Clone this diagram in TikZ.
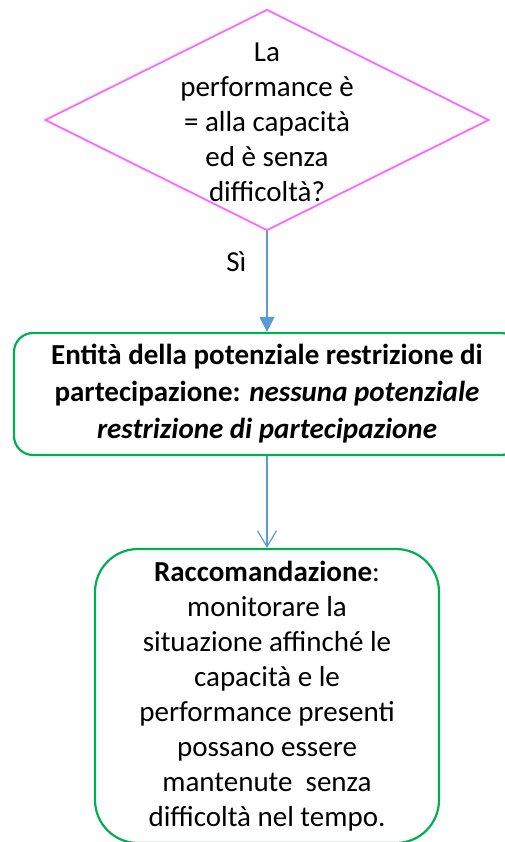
\documentclass[tikz,border=0pt]{standalone}
\usepackage{fontspec}
\setmainfont{Carlito}
\usepackage{tikz}
\usetikzlibrary{shapes.geometric,arrows.meta}
\usepackage{xcolor}
\definecolor{diamondpink}{RGB}{255,102,255}
\definecolor{boxgreen}{RGB}{0,176,80}
\definecolor{flowblue}{RGB}{91,155,213}

\begin{document}
\begin{tikzpicture}[x=1pt,y=-1pt,
  decision/.style={diamond, draw=diamondpink, line width=1.8pt, inner sep=0pt, minimum width=444pt, minimum height=221pt},
  outcome/.style={draw=boxgreen, line width=2.2pt, align=center, inner sep=0pt},
  flow/.style={draw=flowblue, line width=1.2pt},
  every node/.style={font=\fontsize{29}{35}\selectfont}]
\useasboundingbox (0,0) rectangle (504,842);

% Question (diamond drawn empty, text placed on top)
\node[decision] (cond) at (267,120) {};
\node[align=center, inner sep=0pt] (condtext) at (267,122) {La\\ performance è\\ = alla capacità\\ ed è senza\\ difficoltà?};

% Outcome boxes
\node[outcome, rounded corners=19pt, minimum width=506pt, minimum height=122pt,
  font=\fontsize{29}{37}\selectfont] (entity) at (267,394)
  {\textbf{Entità della potenziale restrizione di}\\ \textbf{partecipazione: \textit{nessuna potenziale}}\\ \textbf{\textit{restrizione di partecipazione}}};
\node[outcome, rounded corners=43pt, minimum width=344pt, minimum height=294pt] (advice) at (267,696)
  {\textbf{Raccomandazione}:\\ monitorare la\\ situazione affinché le\\ capacità e le\\ performance presenti\\ possano essere\\ mantenute~ senza\\ difficoltà nel tempo.};

% Connectors
\draw[flow, -{Triangle[length=15pt, width=15pt]}] (cond.south) -- node[pos=0.3, left=20pt, inner sep=0pt] (yes) {Sì} (entity.north);
\draw[flow, -{Straight Barb[length=16pt, width=19pt, line width=1.2pt]}] (entity.south) -- (advice.north);
\end{tikzpicture}
\end{document}
